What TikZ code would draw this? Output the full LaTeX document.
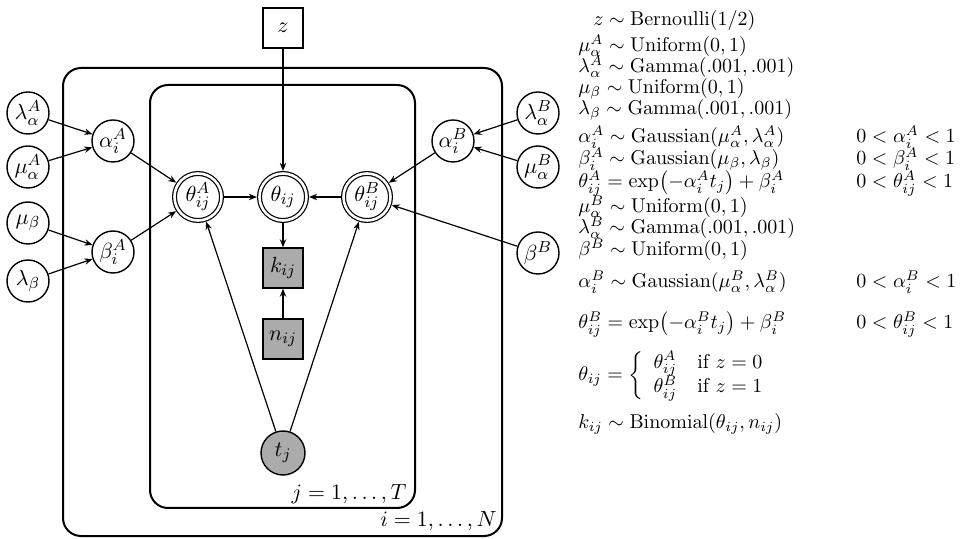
\documentclass[tikz,border=0pt]{standalone}
\usepackage{amsmath}
\usetikzlibrary{arrows.meta}
% slightly tighter scripts for the specification column
\DeclareMathSizes{10}{10}{6.8}{5}
\begin{document}
\begin{tikzpicture}[x=0.5pt,y=-0.5pt,
  font=\fontsize{10.95}{13}\selectfont,
  var/.style={circle,draw,line width=0.7pt,minimum size=21pt,inner sep=0pt,fill=white},
  obs/.style={var,fill=black!33},
  det/.style={circle,draw,line width=0.6pt,double,double distance=1.3pt,
              minimum size=23.5pt,inner sep=0pt,outer sep=1.3pt},
  box/.style={rectangle,draw,line width=0.7pt,minimum size=20pt,inner sep=0pt,fill=white},
  obsbox/.style={box,fill=black!33},
  arr/.style={-{Stealth[length=4pt,width=3.2pt]},line width=0.6pt},
  plate/.style={draw,line width=1pt,rounded corners=9pt},
  eq/.style={anchor=base west,inner sep=0pt,font=\fontsize{10}{12}\selectfont}
]
\useasboundingbox (0,0) rectangle (964,539);

% plates
\draw[plate] (63,68) rectangle (502,536);
\draw[plate] (150,85) rectangle (415,508);
\node[anchor=base east,inner sep=0pt] (plateN) at (497,526) {$i = 1, \ldots, N$};
\node[anchor=base east,inner sep=0pt] (plateT) at (407,500) {$j = 1, \ldots, T$};

% graphical model
\node[box] (z) at (283,28) {$z$};
\node[var] (laA) at (28,113) {$\lambda_\alpha^A$};
\node[var] (muA) at (28,167) {$\mu_\alpha^A$};
\node[var] (mub) at (28,223) {$\mu_\beta$};
\node[var] (lab) at (28,281) {$\lambda_\beta$};
\node[var] (alA) at (113,141) {$\alpha_i^A$};
\node[var] (beA) at (113,252) {$\beta_i^A$};
\node[det] (thA) at (198,197) {$\theta_{ij}^A$};
\node[det] (th) at (283,197) {$\theta_{ij}$};
\node[det] (thB) at (367,197) {$\theta_{ij}^B$};
\node[var] (alB) at (453,141) {$\alpha_i^B$};
\node[var] (laB) at (538,113) {$\lambda_\alpha^B$};
\node[var] (muB) at (538,167) {$\mu_\alpha^B$};
\node[var] (beB) at (538,253) {$\beta^B$};
\node[obsbox] (k) at (283,268) {$k_{ij}$};
\node[obsbox] (n) at (283,339) {$n_{ij}$};
\node[obs,minimum size=22pt] (t) at (283,453) {$t_j$};

\draw[arr] (laA) -- (alA);
\draw[arr] (muA) -- (alA);
\draw[arr] (mub) -- (beA);
\draw[arr] (lab) -- (beA);
\draw[arr] (alA) -- (thA);
\draw[arr] (beA) -- (thA);
\draw[arr] (thA) -- (th);
\draw[arr] (z) -- (th);
\draw[arr] (thB) -- (th);
\draw[arr] (alB) -- (thB);
\draw[arr] (laB) -- (alB);
\draw[arr] (muB) -- (alB);
\draw[arr] (beB) -- (thB);
\draw[arr] (th) -- (k);
\draw[arr] (n) -- (k);
\draw[arr] (t) -- (thA);
\draw[arr] (t) -- (thB);

% model specification
\node[eq] (e1) at (578,26) {$\hphantom{\mu_\alpha^A}\llap{$z$} \sim \mathrm{Bernoulli}(1/2)$};
\node[eq] (e2) at (578,52) {$\mu_\alpha^A \sim \mathrm{Uniform}(0,1)$};
\node[eq] (e3) at (578,73) {$\lambda_\alpha^A \sim \mathrm{Gamma}(.001,.001)$};
\node[eq] (e4) at (578,94) {$\mu_\beta \sim \mathrm{Uniform}(0,1)$};
\node[eq] (e5) at (578,115) {$\lambda_\beta \sim \mathrm{Gamma}(.001,.001)$};
\node[eq] (e6) at (578,143) {$\alpha_i^A \sim \mathrm{Gaussian}(\mu_\alpha^A,\lambda_\alpha^A)$};
\node[eq] (c6) at (856,143) {$0 < \alpha_i^A < 1$};
\node[eq] (e7) at (578,165) {$\beta_i^A \sim \mathrm{Gaussian}(\mu_\beta,\lambda_\beta)$};
\node[eq] (c7) at (856,165) {$0 < \beta_i^A < 1$};
\node[eq] (e8) at (578,188) {$\theta_{ij}^A = \exp\bigl(-\alpha_i^A t_j\bigr) + \beta_i^A$};
\node[eq] (c8) at (856,188) {$0 < \theta_{ij}^A < 1$};
\node[eq] (e9) at (578,213) {$\mu_\alpha^B \sim \mathrm{Uniform}(0,1)$};
\node[eq] (e10) at (578,234) {$\lambda_\alpha^B \sim \mathrm{Gamma}(.001,.001)$};
\node[eq] (e11) at (578,256) {$\beta^B \sim \mathrm{Uniform}(0,1)$};
\node[eq] (e12) at (578,288) {$\alpha_i^B \sim \mathrm{Gaussian}(\mu_\alpha^B,\lambda_\alpha^B)$};
\node[eq] (c12) at (856,288) {$0 < \alpha_i^B < 1$};
\node[eq] (e13) at (578,329) {$\theta_{ij}^B = \exp\bigl(-\alpha_i^B t_j\bigr) + \beta_i^B$};
\node[eq] (c13) at (856,329) {$0 < \theta_{ij}^B < 1$};
\node[eq,anchor=west] (e14) at (578,376)
  {\renewcommand{\arraystretch}{0.85}$\theta_{ij} = \left\{\begin{array}{ll}
     \theta_{ij}^A & \text{if } z = 0\\
     \theta_{ij}^B & \text{if } z = 1
   \end{array}\right.$};
\node[eq] (e15) at (578,429) {$k_{ij} \sim \mathrm{Binomial}(\theta_{ij},n_{ij})$};
\end{tikzpicture}
\end{document}
